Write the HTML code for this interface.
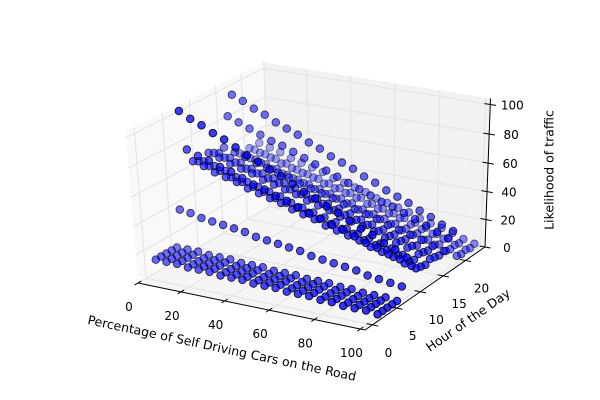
<!DOCTYPE html>
<html><head><meta charset="utf-8"><style>
html,body{margin:0;padding:0;background:#fff;}
svg{display:block;font-family:"DejaVu Sans","Liberation Sans",sans-serif;}
</style></head><body>
<svg id="chart" width="600" height="400" viewBox="0 0 600 400">
<g id="panes"></g>
<g id="grid"></g>
<g id="axes"></g>
<g id="pts"></g>
<text x="222" y="348" font-size="12.5" text-anchor="middle" dominant-baseline="central" transform="rotate(12 222 348)">Percentage of Self Driving Cars on the Road</text>
<text x="468" y="320" font-size="12.5" text-anchor="middle" dominant-baseline="central" transform="rotate(-35 468 320)">Hour of the Day</text>
<text x="549" y="170" font-size="12.5" text-anchor="middle" dominant-baseline="central" transform="rotate(-90 549 170)">Likelihood of traffic</text>
</svg>
<script>
const xValues = [0,5,10,15,20,25,30,35,40,45,50,55,60,65,70,75,80,85,90,95,100];
const hours = [2,3,4,5,6,7,8,9,10,11,12,13,14,15,16,17,18,19,20,21,22,23];
const likelihood = [
[9,9,9,8,8,8,7,7,7,6,6,6,5,5,5,4,4,3,3,3,2],
[9,9,9,8,8,8,7,7,7,6,6,6,5,5,5,4,4,3,3,3,2],
[9,9,9,8,8,8,7,7,7,6,6,6,5,5,5,4,4,3,3,3,2],
[9,9,9,8,8,8,7,7,7,6,6,6,5,5,5,4,4,3,3,3,2],
[9,9,9,8,8,8,7,7,7,6,6,6,5,5,5,4,4,3,3,3,2],
[34,33,31,30,29,28,27,25,24,23,22,21,19,18,17,16,15,13,12,11,10],
[100,96,93,89,86,82,78,75,71,68,64,60,57,53,50,46,42,39,35,32,28],
[72,69,67,64,62,59,56,54,51,49,46,43,41,38,36,33,30,28,25,23,20],
[62,60,57,55,53,50,48,46,44,41,39,37,34,32,30,28,25,23,21,18,16],
[60,58,56,53,51,49,47,44,42,40,38,35,33,31,29,26,24,22,20,17,15],
[58,56,54,51,49,47,45,43,40,38,36,34,32,29,27,25,23,21,18,16,14],
[62,60,57,55,53,50,48,46,44,41,39,37,34,32,30,28,25,23,21,18,16],
[60,58,56,53,51,49,47,44,42,40,38,35,33,31,29,26,24,22,20,17,15],
[58,56,54,51,49,47,45,43,40,38,36,34,32,29,27,25,23,21,18,16,14],
[60,58,56,53,51,49,47,44,42,40,38,35,33,31,29,26,24,22,20,17,15],
[80,77,74,71,68,66,63,60,57,54,51,48,45,42,39,37,34,31,28,25,22],
[93,90,86,83,79,76,73,69,66,62,59,56,52,49,45,42,39,35,32,28,25],
[50,48,46,43,41,39,37,34,32,30,28,25,23,21,19,16,14,12,10,7,5],
[47,45,43,41,38,36,34,32,30,28,26,23,21,19,17,15,13,10,8,6,4],
[50,48,46,43,41,39,37,34,32,30,28,25,23,21,19,16,14,12,10,7,5],
[47,45,43,41,38,36,34,32,30,28,26,23,21,19,17,15,13,10,8,6,4],
[50,48,46,43,41,39,37,34,32,30,28,25,23,21,19,16,14,12,10,7,5]
];
const xTicks = [0,20,40,60,80,100];
const yTicks = [0,5,10,15,20];
const zTicks = [0,20,40,60,80,100];

const XL=[0,102], YL=[-1.5,24.5], ZL=[0,104];
const NS="http://www.w3.org/2000/svg";
const el=30*Math.PI/180, az=-60*Math.PI/180, dist=10;
const E=[0.5+Math.cos(az)*Math.cos(el)*dist,0.5+Math.sin(az)*Math.cos(el)*dist,0.5+Math.sin(el)*dist];
function sub(a,b){return [a[0]-b[0],a[1]-b[1],a[2]-b[2]];}
function norm(a){const l=Math.hypot(a[0],a[1],a[2]);return [a[0]/l,a[1]/l,a[2]/l];}
function cross(a,b){return [a[1]*b[2]-a[2]*b[1],a[2]*b[0]-a[0]*b[2],a[0]*b[1]-a[1]*b[0]];}
function dot(a,b){return a[0]*b[0]+a[1]*b[1]+a[2]*b[2];}
const nV=norm(sub(E,[0.5,0.5,0.5])), uV=norm(cross([0,0,1],nV)), vV=cross(nV,uV);
function raw(x,y,z){
  const p=sub([(x-XL[0])/(XL[1]-XL[0]),(y-YL[0])/(YL[1]-YL[0]),(z-ZL[0])/(ZL[1]-ZL[0])],E);
  const w=-dot(nV,p);
  return [dot(uV,p)/w,dot(vV,p)/w,w];
}
const refs=[[raw(XL[0],YL[0],0),[138,283]],[raw(XL[1],YL[0],0),[365,330]],[raw(XL[1],YL[1],0),[485,247]]];
function solve(k){
  const A=refs.map(r=>[r[0][0],r[0][1],1]), b=refs.map(r=>r[1][k]);
  const det=m=>m[0][0]*(m[1][1]*m[2][2]-m[1][2]*m[2][1])-m[0][1]*(m[1][0]*m[2][2]-m[1][2]*m[2][0])+m[0][2]*(m[1][0]*m[2][1]-m[1][1]*m[2][0]);
  const D=det(A);const out=[];
  for(let c=0;c<3;c++){const M=A.map((row,i)=>row.map((v,j)=>j===c?b[i]:v));out.push(det(M)/D);}
  return out;
}
const cx=solve(0), cy=solve(1);
function P(x,y,z){const r=raw(x,y,z);return [cx[0]*r[0]+cx[1]*r[1]+cx[2],cy[0]*r[0]+cy[1]*r[1]+cy[2],r[2]];}

function mk(tag,attrs,parent){const e=document.createElementNS(NS,tag);for(const k in attrs)e.setAttribute(k,attrs[k]);parent.appendChild(e);return e;}
function poly(pts){return pts.map(p=>p[0].toFixed(2)+","+p[1].toFixed(2)).join(" ");}
const panes=document.getElementById('panes'),grid=document.getElementById('grid'),axes=document.getElementById('axes'),pts=document.getElementById('pts');

let e;
e=mk('polygon',{points:poly([P(XL[0],YL[0],ZL[0]),P(XL[1],YL[0],ZL[0]),P(XL[1],YL[1],ZL[0]),P(XL[0],YL[1],ZL[0])]),fill:'#f5f5f5'},panes);


e=mk('polygon',{points:poly([P(XL[0],YL[1],ZL[0]),P(XL[1],YL[1],ZL[0]),P(XL[1],YL[1],ZL[1]),P(XL[0],YL[1],ZL[1])]),fill:'#f2f2f2'},panes);


e=mk('polygon',{points:poly([P(XL[0],YL[0],ZL[0]),P(XL[0],YL[1],ZL[0]),P(XL[0],YL[1],ZL[1]),P(XL[0],YL[0],ZL[1])]),fill:'#f9f9f9'},panes);



function line(a,b,parent,color,w){return mk('line',{x1:a[0].toFixed(2),y1:a[1].toFixed(2),x2:b[0].toFixed(2),y2:b[1].toFixed(2),stroke:color,'stroke-width':w},parent);}
const gc='#e3e3e3';
xTicks.forEach(t=>{
  e=line(P(t,YL[0],0),P(t,YL[1],0),grid,gc,1);
  
  
  e=line(P(t,YL[1],ZL[0]),P(t,YL[1],ZL[1]),grid,gc,1);
  
  
});
yTicks.forEach(t=>{
  e=line(P(XL[0],t,0),P(XL[1],t,0),grid,gc,1);
  
  
  e=line(P(XL[0],t,ZL[0]),P(XL[0],t,ZL[1]),grid,gc,1);
  
  
});
zTicks.forEach(t=>{
  e=line(P(XL[0],YL[1],t),P(XL[1],YL[1],t),grid,gc,1);
  
  
  e=line(P(XL[0],YL[0],t),P(XL[0],YL[1],t),grid,gc,1);
  
  
});

e=line(P(XL[0],YL[0],0),P(XL[1],YL[0],0),axes,'#000',1);


e=line(P(XL[1],YL[0],0),P(XL[1],YL[1],0),axes,'#000',1);


e=line(P(XL[1],YL[1],ZL[0]),P(XL[1],YL[1],ZL[1]),axes,'#000',1);



function label(txt,p,parent){const t=mk('text',{x:p[0].toFixed(1),y:p[1].toFixed(1),'font-size':12,'text-anchor':'middle','dominant-baseline':'central',fill:'#000'},parent);t.textContent=txt;return t;}
xTicks.forEach(t=>{
  e=line(P(t,YL[0]+0.6,0),P(t,YL[0]-0.6,0),axes,'#000',1);
  
  
  const p=P(t,YL[0],0);
  e=label(String(t),[p[0]-9,p[1]+24],axes);
  
  
});
yTicks.forEach(t=>{
  e=line(P(XL[1]-2.5,t,0),P(XL[1]+2.5,t,0),axes,'#000',1);
  
  
  const p=P(XL[1],t,0);
  e=label(String(t),[p[0]+16,p[1]+28],axes);
  
  
});
zTicks.forEach(t=>{
  e=line(P(XL[1]-2.5,YL[1],t),P(XL[1]+2.5,YL[1],t),axes,'#000',1);
  
  
  const p=P(XL[1],YL[1],t);
  e=label(String(t),[p[0]+22,p[1]+1],axes);
  
  
});

const list=[];
hours.forEach((h,i)=>{xValues.forEach((x,j)=>{const p=P(x,h,likelihood[i][j]);list.push(p);});});
let dmin=Infinity,dmax=-Infinity;list.forEach(p=>{dmin=Math.min(dmin,p[2]);dmax=Math.max(dmax,p[2]);});
list.sort((a,b)=>b[2]-a[2]);
list.forEach(p=>{
  const a=1-0.6*(p[2]-dmin)/(dmax-dmin);
  const c=mk('circle',{cx:p[0].toFixed(2),cy:p[1].toFixed(2),r:3.8,fill:'#0000ff','fill-opacity':(Math.min(1,a*1.05)*0.8).toFixed(3),stroke:'#000','stroke-opacity':a.toFixed(3),'stroke-width':0.9},pts);
  
  
});
</script>
</body></html>
